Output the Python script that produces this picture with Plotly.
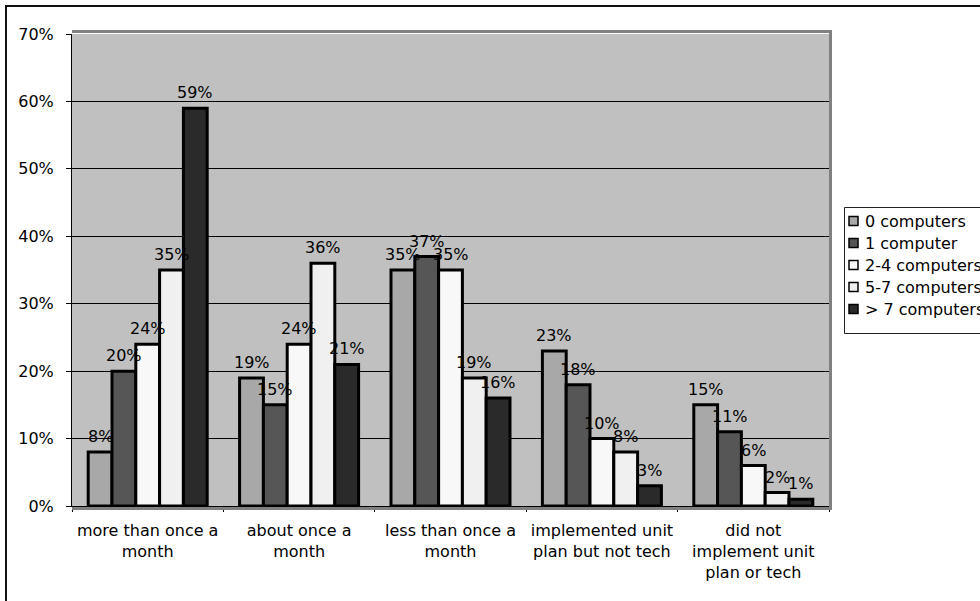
import plotly.graph_objects as go

categories = [
    "more than once a<br>month",
    "about once a<br>month",
    "less than once a<br>month",
    "implemented unit<br>plan but not tech",
    "did not<br>implement unit<br>plan or tech",
]
series_names = ["0 computers", "1 computer", "2-4 computers", "5-7 computers", "> 7 computers"]
values_0 = [8, 19, 35, 23, 15]
values_1 = [20, 15, 37, 18, 11]
values_2_4 = [24, 24, 35, 10, 6]
values_5_7 = [35, 36, 19, 8, 2]
values_gt7 = [59, 21, 16, 3, 1]
series_values = [values_0, values_1, values_2_4, values_5_7, values_gt7]
bar_colors = ["#A8A8A8", "#565656", "#F8F8F8", "#F0F0F0", "#2A2A2A"]
y_ticks = [0, 10, 20, 30, 40, 50, 60, 70]
y_tick_labels = [f"{v}%" for v in y_ticks]

W, H = 980, 601
ML, MR, MT, MB = 72, 151, 34, 95
BARGAP = 0.214
FONT = "Verdana, DejaVu Sans, sans-serif"

plot_w = W - ML - MR
plot_h = H - MT - MB


def px_x(p):
    return (p - ML) / plot_w


def px_y(p):
    return (H - MB - p) / plot_h


fig = go.Figure()
n = len(series_names)
bw = (1 - BARGAP) / n
annotations = []
for k, (name, vals, col) in enumerate(zip(series_names, series_values, bar_colors)):
    fig.add_trace(go.Bar(
        x=categories, y=vals, name=name, showlegend=False,
        marker=dict(color=col, line=dict(color="black", width=3)),
    ))
    for i, v in enumerate(vals):
        annotations.append(dict(
            x=i + (k - (n - 1) / 2) * bw, y=v, xref="x", yref="y",
            text=f"{v}%", showarrow=False, yanchor="bottom", yshift=4,
            font=dict(family=FONT, size=16, color="black"),
        ))

shapes = [
    # chart frame
    dict(type="path", xref="paper", yref="paper",
         path=f"M {px_x(6)},{px_y(700)} L {px_x(6)},{px_y(6)} L {px_x(1100)},{px_y(6)}",
         line=dict(color="#111111", width=2)),
    # plot-area border on top, right and bottom
    dict(type="path", xref="paper", yref="paper",
         path=(f"M {px_x(72)},{px_y(31.5)} L {px_x(830.5)},{px_y(31.5)} "
               f"L {px_x(830.5)},{px_y(508.5)} L {px_x(72)},{px_y(508.5)}"),
         line=dict(color="#808080", width=3)),
    # legend box
    dict(type="rect", xref="paper", yref="paper",
         x0=px_x(844.5), x1=px_x(1100), y0=px_y(333.5), y1=px_y(207.5),
         fillcolor="white", line=dict(color="#222222", width=1)),
]

# legend entries: swatch + series name
LEG_TOP, LEG_STEP = 221, 22
for k, (name, col) in enumerate(zip(series_names, bar_colors)):
    cy = LEG_TOP + k * LEG_STEP
    shapes.append(dict(
        type="rect", xref="paper", yref="paper",
        x0=px_x(849), x1=px_x(858), y0=px_y(cy + 4.5), y1=px_y(cy - 4.5),
        fillcolor=col, line=dict(color="black", width=1.5),
    ))
    annotations.append(dict(
        x=px_x(863), y=px_y(cy), xref="paper", yref="paper",
        text=name, showarrow=False, xanchor="left", yanchor="middle",
        font=dict(family=FONT, size=16, color="black"),
    ))

fig.update_layout(
    width=W, height=H,
    margin=dict(l=ML, r=MR, t=MT, b=MB, autoexpand=False),
    paper_bgcolor="white", plot_bgcolor="#C0C0C0",
    barmode="group", bargap=BARGAP, bargroupgap=0,
    font=dict(family=FONT, size=16, color="black"),
    showlegend=False,
    annotations=annotations,
    shapes=shapes,
)
fig.update_xaxes(
    type="category", tickson="boundaries", ticks="outside", ticklen=5,
    tickcolor="black", showline=True, linecolor="black", linewidth=1,
    showgrid=False, tickangle=0, automargin=False,
    tickfont=dict(family=FONT, size=16, color="black"),
    ticklabelstandoff=10,
)
fig.update_yaxes(
    range=[0, 70], tickvals=y_ticks, ticktext=y_tick_labels,
    ticks="outside", ticklen=5, automargin=False,
    tickcolor="black", showline=True, linecolor="black", linewidth=1,
    showgrid=True, gridcolor="black", gridwidth=1, zeroline=False,
    tickfont=dict(family=FONT, size=16, color="black"),
    ticklabelstandoff=9,
)

fig.write_html("out.html")
